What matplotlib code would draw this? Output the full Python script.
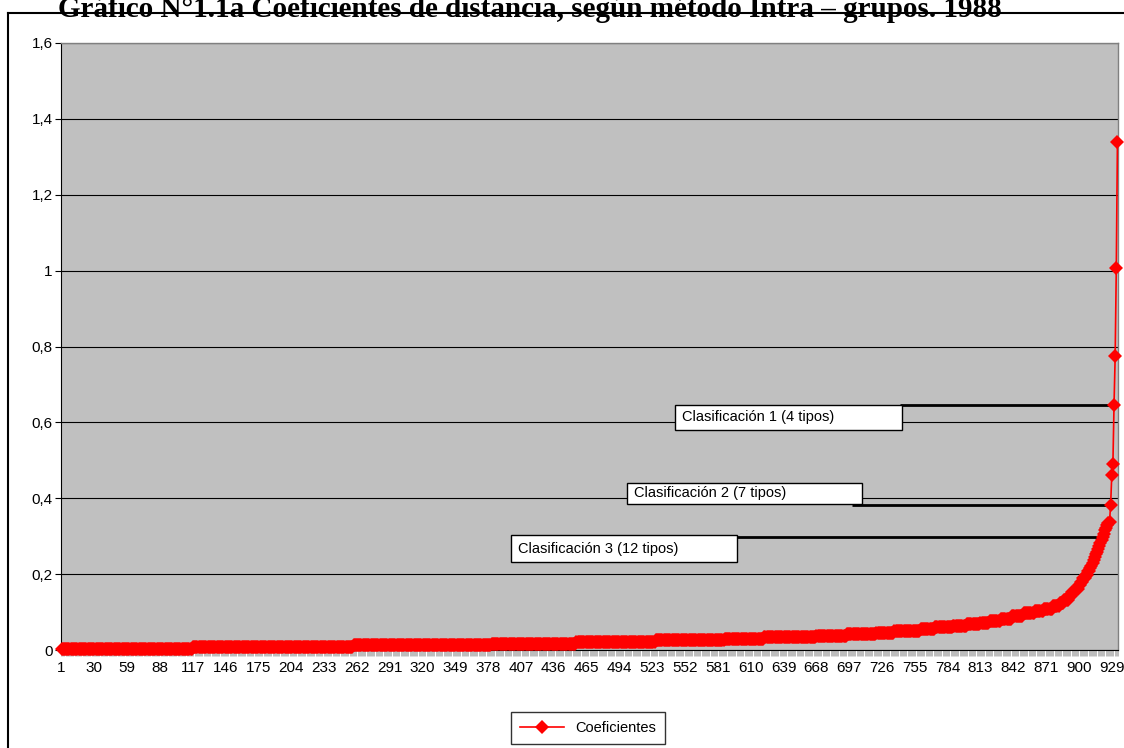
import numpy as np
import matplotlib
matplotlib.use("Agg")
import matplotlib.pyplot as plt
from matplotlib.lines import Line2D
from matplotlib.patches import Rectangle

# ---------------- data ----------------
# staircase part: value levels and how many consecutive cases share them
step_levels = [0.003, 0.008, 0.013, 0.017, 0.021, 0.026, 0.030, 0.034,
               0.038, 0.042, 0.046, 0.051, 0.056, 0.060, 0.063, 0.068,
               0.072, 0.077, 0.083, 0.090, 0.098, 0.104, 0.109, 0.116,
               0.124, 0.133, 0.143, 0.152, 0.162, 0.171, 0.180, 0.189,
               0.198, 0.208]
step_counts = [116, 142, 122, 75, 70, 61, 35, 46,
               27, 26, 16, 23, 13, 16, 12, 12,
               8, 10, 10, 10, 10, 8, 8, 6,
               4, 4, 3, 3, 3, 2, 2, 2,
               2, 2]
# steep tail: individual coefficients
tail_values = [0.215, 0.222, 0.230, 0.238, 0.245, 0.252, 0.259, 0.266,
               0.273, 0.282, 0.290, 0.298, 0.306, 0.316, 0.322, 0.330,
               0.334, 0.338, 0.383, 0.462, 0.491, 0.647, 0.775, 1.008,
               1.338]

x_tick_labels = ["1", "30", "59", "88", "117", "146", "175", "204", "233",
                 "262", "291", "320", "349", "378", "407", "436", "465",
                 "494", "523", "552", "581", "610", "639", "668", "697",
                 "726", "755", "784", "813", "842", "871", "900", "929"]
y_tick_values = [0, 0.2, 0.4, 0.6, 0.8, 1.0, 1.2, 1.4, 1.6]
y_tick_labels = ["0", "0,2", "0,4", "0,6", "0,8", "1", "1,2", "1,4", "1,6"]

series_name = "Coeficientes"
annot_labels = ["Clasificación 1 (4 tipos)", "Clasificación 2 (7 tipos)",
                "Clasificación 3 (12 tipos)"]
annot_case = [931, 928, 921]          # case number the line points to
title = "Gráfico N°1.1a Coeficientes de distancia, según método Intra – grupos. 1988"

# ---------------- build series ----------------
coef = np.concatenate([np.repeat(step_levels, step_counts), tail_values])
n = len(coef)
xpos = np.arange(n)

# ---------------- figure ----------------
W, H = 1124, 748
fig = plt.figure(figsize=(W / 100, H / 100), dpi=100)
plt.rcParams['font.family'] = ['Liberation Sans', 'DejaVu Sans']

L, R, T, B = 61, 1118, 43, 650
ax = fig.add_axes([L / W, 1 - B / H, (R - L) / W, (B - T) / H])
ax.set_facecolor("#C0C0C0")

ax.set_xlim(-0.5, n - 0.5)
ax.set_ylim(0, 1.6)

ax.set_yticks(y_tick_values)
ax.set_yticklabels(y_tick_labels, fontsize=11)
ax.yaxis.grid(True, color="black", linewidth=0.8)
ax.set_axisbelow(True)
ax.tick_params(axis="y", length=4, width=0.8, direction="out", pad=2)

label_numbers = [int(s) for s in x_tick_labels]
ax.set_xticks([v - 1 for v in label_numbers])
ax.set_xticklabels(x_tick_labels, fontsize=11)
ax.set_xticks(np.arange(n + 1) - 0.5, minor=True)
ax.tick_params(axis="x", which="major", length=0, pad=8)
ax.tick_params(axis="x", which="minor", length=4, width=0.4,
               color="#8a8a8a", direction="out")

for s in ("top", "right"):
    ax.spines[s].set_color("#808080")
    ax.spines[s].set_linewidth(1)
ax.spines["left"].set_color("black")
ax.spines["bottom"].set_color("black")

# series
ax.plot(xpos, coef, color="#FF0000", linewidth=1.2, marker="D",
        markersize=7, markeredgewidth=0, zorder=5, clip_on=False)

# annotation boxes (pixel layout of the reference)
boxes = [(675, 902, 405, 430), (627, 862, 483, 504), (511, 737, 535, 562)]
line_start_px = [900, 852, 737]

def fx(px):
    return (px - L) / (R - L)

def fy(py):
    return (B - py) / (B - T)

x0, x1 = ax.get_xlim()
for lab, case, (bx0, bx1, by0, by1), ls in zip(annot_labels, annot_case,
                                                boxes, line_start_px):
    val = coef[case - 1]
    xs = x0 + fx(ls) * (x1 - x0)
    ax.plot([xs, case - 1], [val, val], color="black", linewidth=2,
            zorder=4, solid_capstyle="butt")
    rect = Rectangle((fx(bx0), fy(by1)), fx(bx1) - fx(bx0), fy(by0) - fy(by1),
                     transform=ax.transAxes, facecolor="white",
                     edgecolor="black", linewidth=1, zorder=6)
    ax.add_patch(rect)
    ax.text(fx(bx0 + 7), fy((by0 + by1) / 2), lab, transform=ax.transAxes,
            fontsize=10.5, va="center", ha="left", zorder=7)

# outer chart border
fig.add_artist(Line2D([8 / W, 8 / W], [0, 1 - 13 / H], color="black",
                      linewidth=1.5, transform=fig.transFigure))
fig.add_artist(Line2D([8 / W, 1], [1 - 13 / H, 1 - 13 / H], color="black",
                      linewidth=1.5, transform=fig.transFigure))

# title (cut at the top as in the reference)
fig.text(530 / W, 1 - 17 / H, title, ha="center", va="baseline",
         fontsize=21, fontweight="bold",
         family=["Liberation Serif", "DejaVu Serif"])

# legend
handle = Line2D([], [], color="#FF0000", linewidth=1.2, marker="D",
                markersize=7, markeredgewidth=0)
leg = fig.legend([handle], [series_name], loc="center",
                 bbox_to_anchor=(588 / W, 1 - 728 / H), fontsize=10.5,
                 frameon=True, fancybox=False, edgecolor="black",
                 handlelength=3, borderpad=0.6)
leg.get_frame().set_linewidth(1)

fig.savefig("out.png", dpi=100, facecolor="white")
